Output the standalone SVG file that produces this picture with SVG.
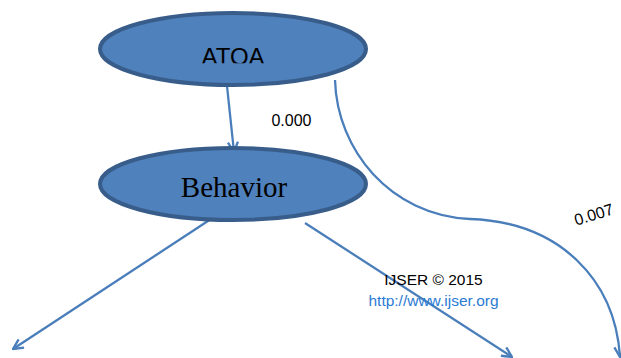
<svg xmlns="http://www.w3.org/2000/svg" width="621" height="358" viewBox="0 0 621 358">
<style>
.node{fill:#4f81bd;stroke:#385d8a;stroke-width:4}
.conn{fill:none;stroke:#4a7ebb;stroke-width:2.3}
.lbl{font-family:"Liberation Sans",Arial,sans-serif;font-size:16px;fill:#000}
</style>
<defs>
<marker id="arr" viewBox="0 0 12 12" refX="11" refY="6" markerWidth="12" markerHeight="12" markerUnits="userSpaceOnUse" orient="auto">
<path d="M1,1 L11,6 L1,11" fill="none" stroke="#4a7ebb" stroke-width="2.3"/>
</marker>
<clipPath id="cutA"><rect x="0" y="0" width="621" height="63.3"/></clipPath>
</defs>
<rect width="621" height="358" fill="#fff"/>
<g id="connectors">
<path class="conn" d="M227,86 L234,152" marker-end="url(#arr)"/>
<path class="conn" d="M335,80 C337,150 390,215 470,219 C560,222 615,280 620,357" marker-end="url(#arr)"/>
<path class="conn" d="M211,219 L13,349" marker-end="url(#arr)"/>
<path class="conn" d="M305,223 L512,357" marker-end="url(#arr)"/>
</g>
<g id="ATOA">
<ellipse class="node" cx="233" cy="49" rx="133" ry="36"/>
<text x="233" y="64.5" clip-path="url(#cutA)" text-anchor="middle" font-family="Liberation Sans, Arial, sans-serif" font-size="24" fill="#000">ATOA</text>
</g>
<g id="Behavior">
<ellipse class="node" cx="233" cy="184" rx="133" ry="36"/>
<text x="234" y="197" text-anchor="middle" font-family="Liberation Serif, Times New Roman, serif" font-size="29" fill="#000">Behavior</text>
</g>
<g id="labels">
<text class="lbl" x="291.5" y="126" text-anchor="middle">0.000</text>
<text class="lbl" x="594" y="220" text-anchor="middle" transform="rotate(-17 594 215)">0.007</text>
<text x="433.5" y="285" text-anchor="middle" font-family="Liberation Sans, Arial, sans-serif" font-size="15.5" fill="#000">IJSER © 2015</text>
<text x="433.5" y="306" text-anchor="middle" font-family="Liberation Sans, Arial, sans-serif" font-size="15.5" fill="#2b7bd4">http://www.ijser.org</text>
</g>
</svg>
